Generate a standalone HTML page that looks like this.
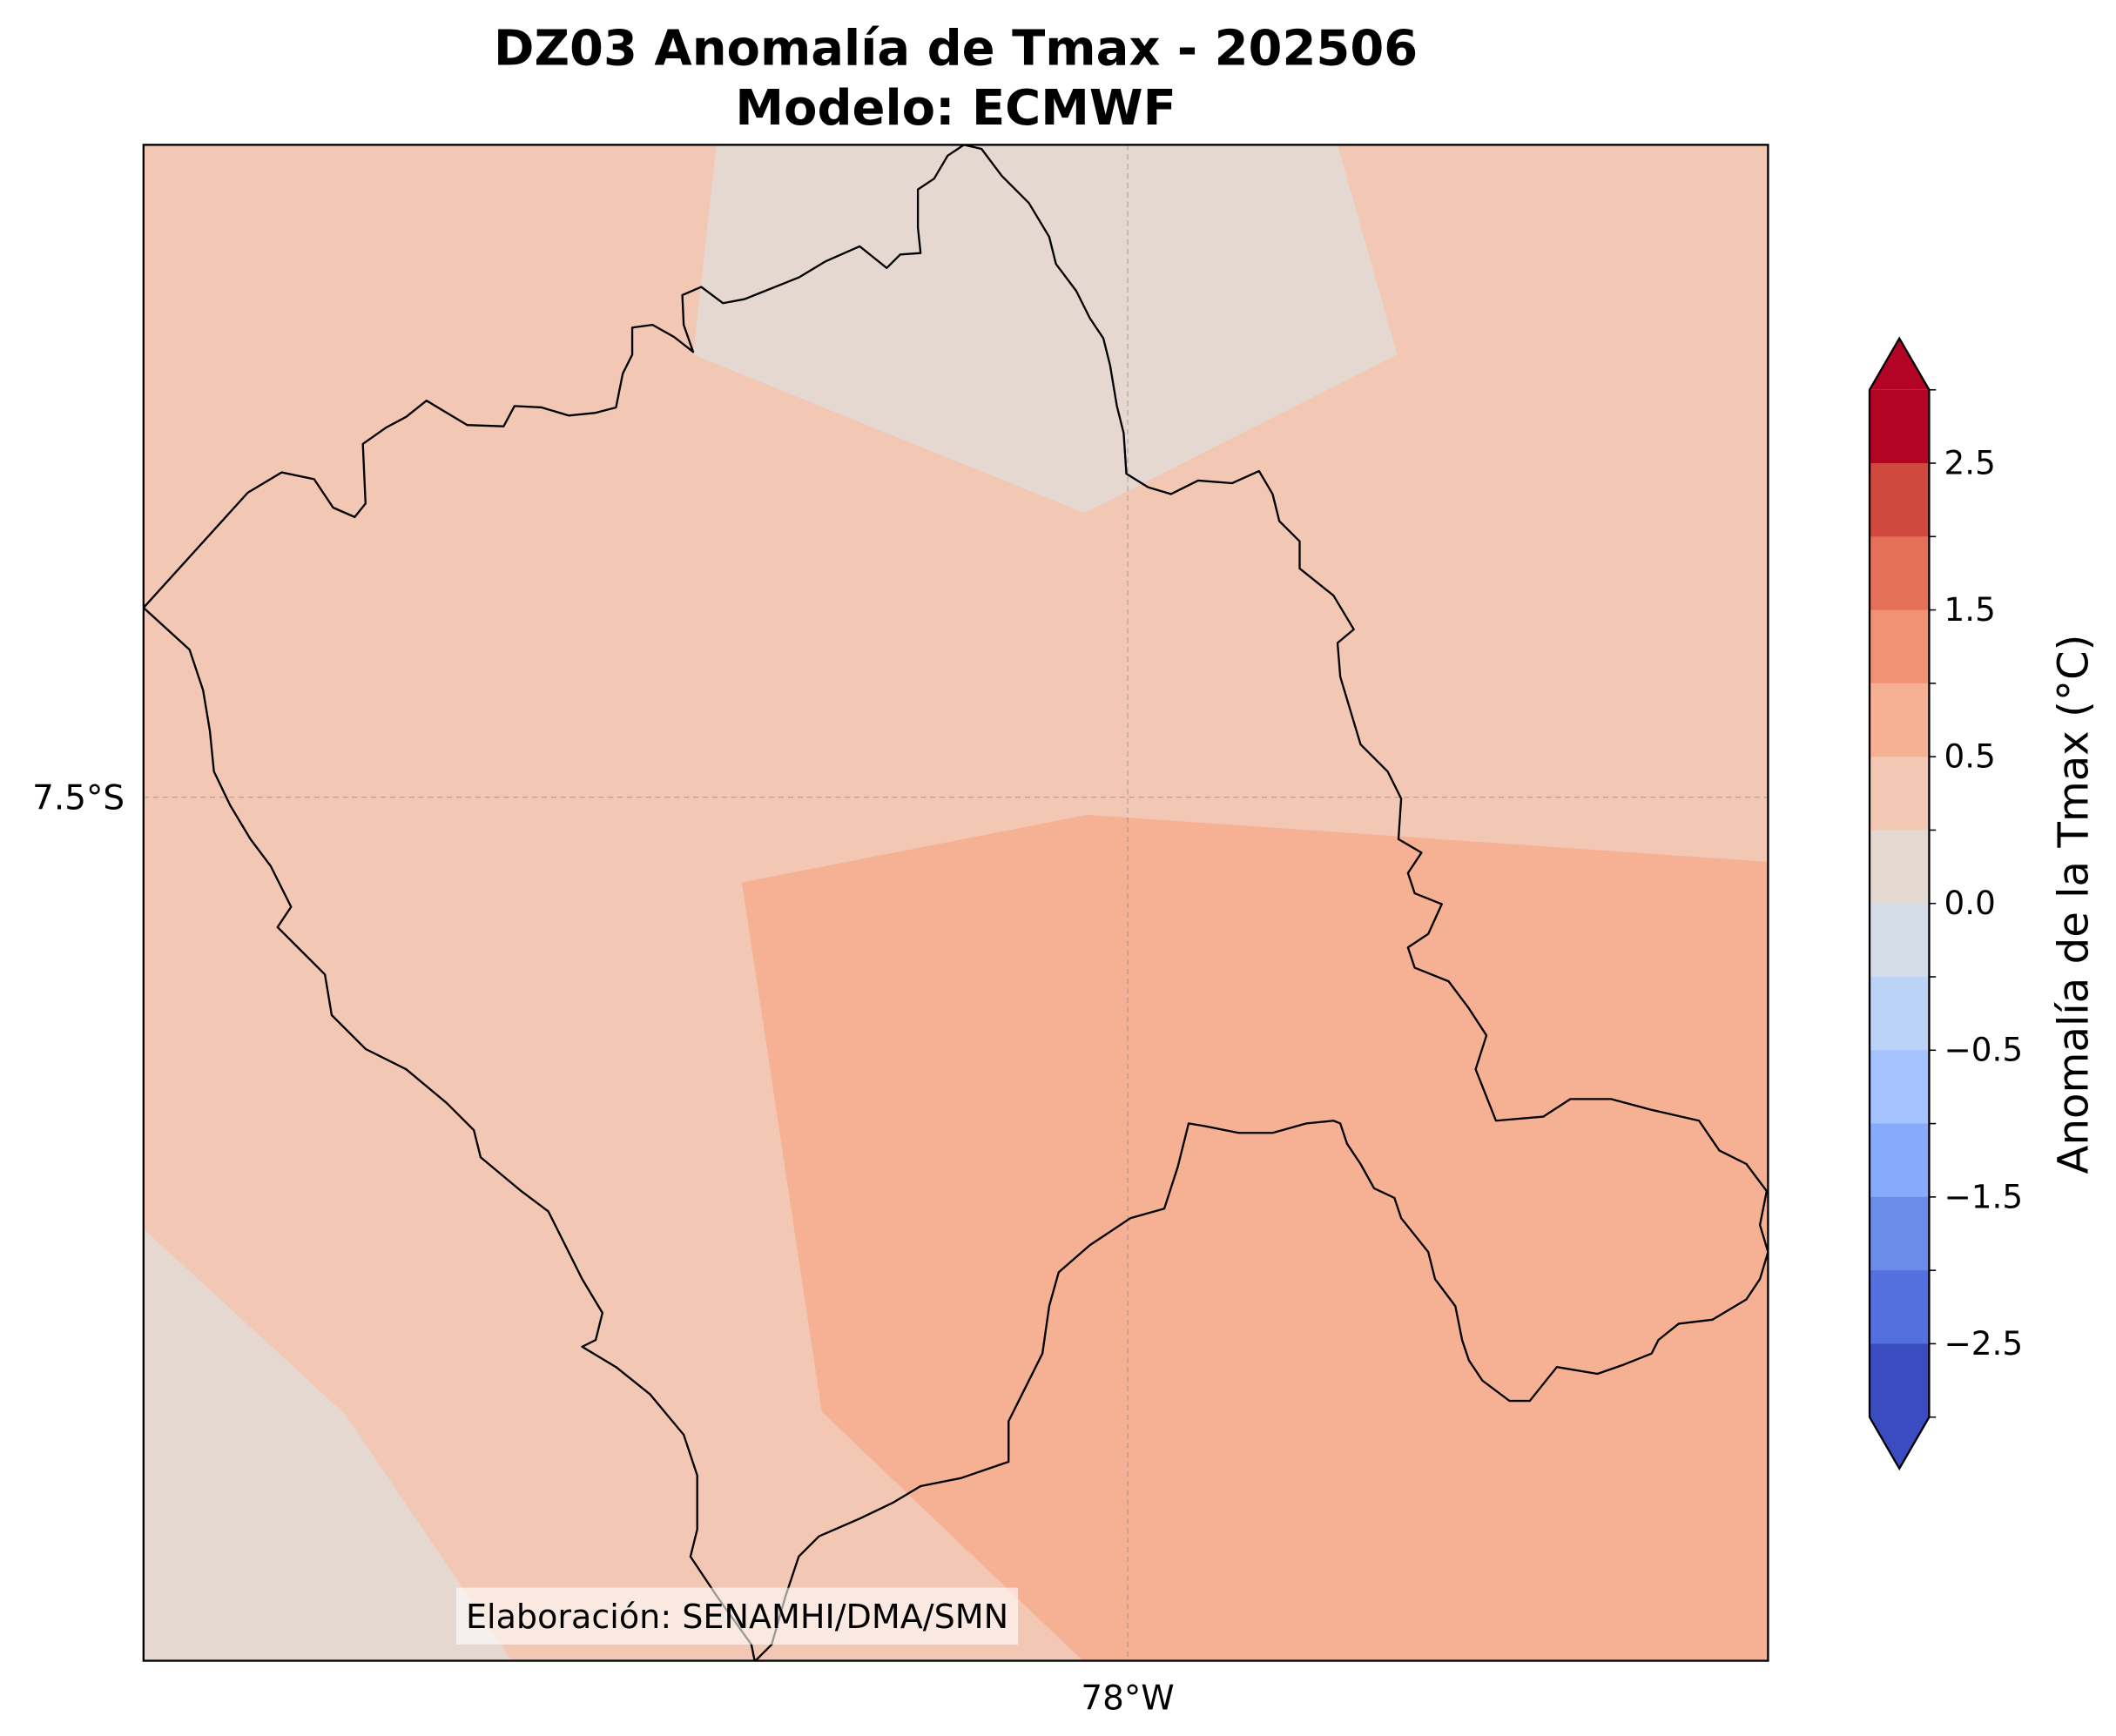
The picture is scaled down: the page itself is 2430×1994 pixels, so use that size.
<!DOCTYPE html>
<html><head><meta charset="utf-8"><style>
html,body{margin:0;padding:0;background:#fff}
svg{display:block}
text{font-family:"DejaVu Sans","Liberation Sans",sans-serif}
</style></head><body>
<svg id="fig" width="2430" height="1994" viewBox="0 0 1563 1282.6" xmlns="http://www.w3.org/2000/svg">
<rect width="1563" height="1282.6" fill="#fff"/>
<text x="706" y="48" text-anchor="middle" font-size="36" font-weight="bold">DZ03 Anomalía de Tmax - 202506</text>
<text x="706" y="92" text-anchor="middle" font-size="36" font-weight="bold">Modelo: ECMWF</text>
<defs><clipPath id="mapclip"><rect x="106" y="107" width="1200" height="1120"/></clipPath></defs>
<g id="map" clip-path="url(#mapclip)">
<rect x="106" y="107" width="1200" height="1120" fill="#f2c8b4"/>
<polygon points="530,100 986,100 1032,262 801,379 512,262" fill="#e5d8d1"/>
<polygon points="106,908 255,1045 380,1230 106,1230" fill="#e5d8d1"/>
<polygon points="548,652 803,602 1310,637 1310,1230 803,1230 607,1043" fill="#f6b093"/>
<line x1="833" y1="107" x2="833" y2="1227" stroke="#888" stroke-width="0.8" stroke-dasharray="4,3" opacity="0.6"/>
<line x1="106" y1="589" x2="1306" y2="589" stroke="#888" stroke-width="0.8" stroke-dasharray="4,3" opacity="0.6"/>
<polyline fill="none" stroke="#000" stroke-width="1.5" stroke-linejoin="round" points="106,449 183,364 208,349 232,354 246,375 262,382 270,372 268,328 285,316 300,308 315,296 330,305 345,314 372,315 380,300 400,301 420,307 440,305 455,301 460,276 467,262 467,242 482,240 498,249 512,260 505,240 504,218 518,212 534,224 550,221 570,213 590,205 610,193 635,182 645,190 655,198 665,188 680,187 678,168 678,140 690,132 700,115 712,107 725,110 740,130 760,150 775,175 780,195 795,215 805,235 815,250 820,270 825,300 830,320 832,350 848,360 865,365 885,355 910,357 930,348 940,365 945,385 960,400 960,420 985,440 1000,465 988,475 990,500 1005,550 1025,570 1035,590 1033,620 1050,630 1040,645 1045,660 1065,668 1055,690 1040,700 1045,715 1070,725 1085,745 1098,765 1090,790 1105,828 1140,825 1160,812 1190,812 1220,820 1255,828 1270,850 1290,860 1305,880 1300,905 1306,925 1300,945 1290,960 1265,975 1240,978 1225,990 1220,1000 1200,1008 1180,1015 1150,1010 1130,1035 1115,1035 1095,1020 1085,1005 1080,990 1075,965 1060,945 1055,925 1035,900 1030,885 1015,878 1005,860 995,845 990,830 985,828 965,830 940,837 915,837 890,832 878,830 870,862 860,893 835,900 805,920 782,940 775,965 770,1000 755,1030 745,1050 745,1080 710,1092 680,1098 660,1110 635,1122 605,1135 590,1150 580,1180 570,1215 555,1230"/>
<polyline fill="none" stroke="#000" stroke-width="1.5" stroke-linejoin="round" points="106,449 140,480 150,510 155,540 158,570 170,595 185,620 200,640 215,670 205,685 220,700 240,720 245,750 270,775 300,790 330,815 350,835 355,855 385,880 405,895 415,915 430,945 445,970 440,990 430,995 455,1010 480,1030 505,1060 515,1090 515,1130 510,1150 530,1180 555,1215 558,1230"/>
<rect x="337" y="1173" width="415" height="42" fill="#fff" opacity="0.6"/>
<text x="544.5" y="1203" text-anchor="middle" font-size="24.5">Elaboración: SENAMHI/DMA/SMN</text>
</g>
<rect x="106" y="107" width="1200" height="1120" fill="none" stroke="#000" stroke-width="1.5"/>
<text x="92" y="598" text-anchor="end" font-size="25">7.5°S</text>
<text x="833" y="1263" text-anchor="middle" font-size="25">78°W</text>
<g id="cbar"></g>
<text transform="translate(1542,668) rotate(-90)" text-anchor="middle" font-size="31">Anomalía de la Tmax (°C)</text>
<script>
const levels = [3, 2.5, 2, 1.5, 1, 0.5, 0.25, 0, -0.25, -0.5, -1, -1.5, -2, -2.5, -3];
const binColors = ["#b40426","#d0473d","#e57058","#f29274","#f6b093","#f2c8b4","#e5d8d1","#d3dce7","#bcd2f7","#a3c2fe","#87aafc","#6b8de9","#5470de","#3b4cc0"];
const tickLabels = ["2.5","1.5","0.5","0.0","\u22120.5","\u22121.5","\u22122.5"];
const labelLevels = [2.5, 1.5, 0.5, 0, -0.5, -1.5, -2.5];
(function(){
const NS = "http://www.w3.org/2000/svg";
const g = document.getElementById("cbar");
const cx0 = 1381, cx1 = 1425, yTop = 288, yBot = 1047;
const step = (yBot - yTop) / (levels.length - 1);
function yOf(v){ return yTop + levels.indexOf(v) * step; }
function mk(tag, attrs){ const e = document.createElementNS(NS, tag); for (const k in attrs) e.setAttribute(k, attrs[k]); g.appendChild(e); return e; }
const tipTop = mk("polygon", {points:`${cx0},${yTop} ${(cx0+cx1)/2},${yTop-38} ${cx1},${yTop}`, fill:binColors[0]});


const tipBot = mk("polygon", {points:`${cx0},${yBot} ${(cx0+cx1)/2},${yBot+38} ${cx1},${yBot}`, fill:binColors[binColors.length-1]});


for (let i = 0; i < binColors.length; i++) {
  const y0 = yOf(levels[i]), y1 = yOf(levels[i+1]);
  const r = mk("rect", {x:cx0, y:y0, width:cx1-cx0, height:y1-y0+0.5, fill:binColors[i]});
  
  
}
for (let i = 0; i < levels.length; i++) {
  const y = yOf(levels[i]);
  const t = mk("line", {x1:cx1, x2:cx1+5, y1:y, y2:y, stroke:"#000", "stroke-width":1});
  
  
}
for (let i = 0; i < labelLevels.length; i++) {
  const y = yOf(labelLevels[i]);
  const t = mk("text", {x:1436, y:y+8, "font-size":24});
  t.textContent = tickLabels[i];
  
  
}
const outline = mk("polygon", {points:`${cx0},${yTop} ${(cx0+cx1)/2},${yTop-38} ${cx1},${yTop} ${cx1},${yBot} ${(cx0+cx1)/2},${yBot+38} ${cx0},${yBot}`, fill:"none", stroke:"#000", "stroke-width":1.5});


})();
</script>
</svg>
</body></html>
